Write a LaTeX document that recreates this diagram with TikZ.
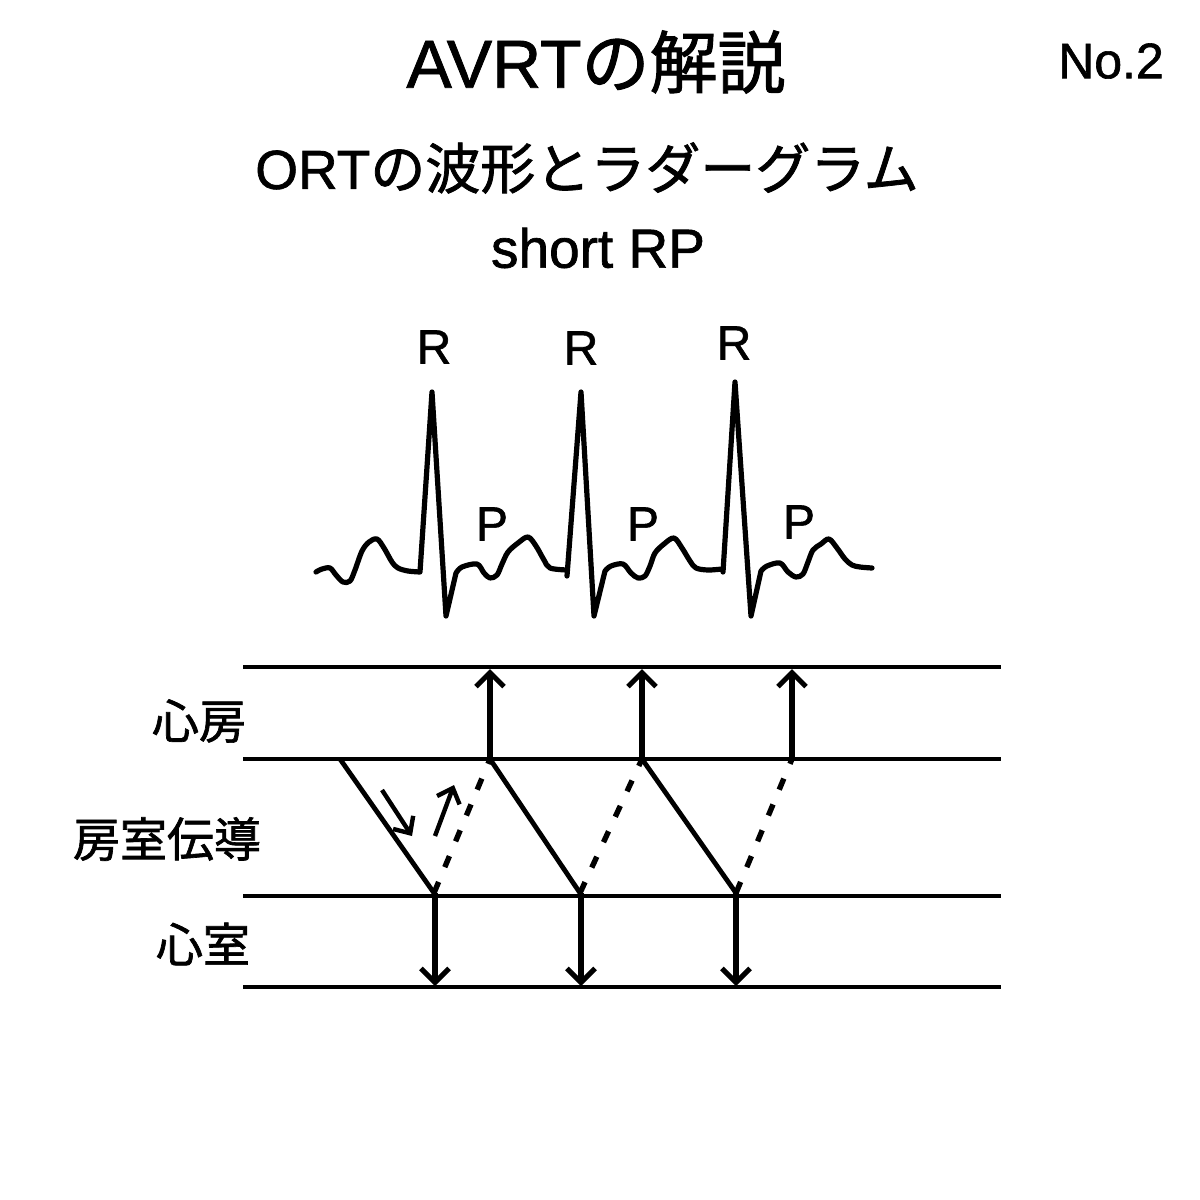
\documentclass[tikz,border=0pt]{standalone}
\usepackage{fontspec}
\setmainfont[FakeBold=1.2]{Liberation Sans}
\newfontfamily\jp[FakeBold=1.4]{Noto Sans CJK JP}
\usetikzlibrary{arrows.meta}
\tikzset{
  lbl/.style={inner sep=0pt,text=black,font=\fontsize{48}{48}\selectfont},
  jplbl/.style={inner sep=0pt,text=black,font=\jp\fontsize{47}{47}\selectfont},
  level/.style={line width=3.8pt},
  vert/.style={line width=5.6pt,-{Straight Barb[length=14pt,width=28pt,line width=5pt]}},
  anti/.style={line width=4.8pt},
  retro/.style={line width=5.4pt,dash pattern=on 12pt off 16pt},
  small/.style={line width=4.4pt,-{Straight Barb[length=13pt,width=24pt,line width=4.4pt]}},
  ecg/.style={line width=5.2pt,line join=round,line cap=round}
}
\begin{document}
\begin{tikzpicture}[x=1pt,y=-1pt]
\useasboundingbox (0,0) rectangle (1200,1200);
\fill[white] (0,0) rectangle (1200,1200);
% titles
\node[inner sep=0pt] (title) at (596,62) {\fontsize{68}{68}\selectfont AVRT\jp の解説};
\node[inner sep=0pt] (no) at (1111,61) {\fontsize{50}{50}\selectfont No.2};
\node[inner sep=0pt] (sub) at (587,168) {\fontsize{55}{55}\selectfont ORT\jp の波形とラダーグラム};
\node[inner sep=0pt] (rp) at (598,248) {\fontsize{55}{55}\selectfont short RP};
% wave labels
\node[lbl] (r1) at (434,347) {R};
\node[lbl] (r2) at (581,348) {R};
\node[lbl] (r3) at (734,343) {R};
\node[lbl] (p1) at (492,524) {P};
\node[lbl] (p2) at (643,524) {P};
\node[lbl] (p3) at (799,522) {P};
% ECG
\draw[ecg] plot[smooth,tension=0.55] coordinates {(316,572)(322,569)(330,568)(336,575)(343,582)(350,581)(355,570)(362,551)(369,542)(377,539)(384,548)(392,562)(398,568)(408,571)(420,572)}
  -- (432,392) -- (446,616) -- (456,573)
  plot[smooth,tension=0.55] coordinates {(456,573)(462,567)(477,564)(484,573)(490,578)(497,575)(502,564)(508,552)(518,543)(528,537)(536,546)(544,560)(550,568)(567,570)}
  (567,576) -- (581,392) -- (594,616) -- (605,571)
  plot[smooth,tension=0.55] coordinates {(605,571)(611,566)(623,564)(631,573)(638,578)(645,576)(650,566)(655,553)(664,544)(674,538)(682,548)(690,561)(696,568)(708,570)(722,569)}
  (723,572) -- (735,382) -- (751,616) -- (761,571)
  plot[smooth,tension=0.55] coordinates {(761,571)(767,566)(780,563)(788,572)(796,577)(803,574)(808,562)(813,550)(821,544)(829,539)(837,548)(845,559)(852,565)(860,567)(872,568)};
% ladder levels
\foreach \n/\y in {a/667,b/759,c/896,d/987}{
  \coordinate (\n L) at (243,\y);
  \coordinate (\n R) at (1001,\y);
  \draw[level] (\n L) -- (\n R);
}
% ladder labels
\node[jplbl] (la) at (199,721) {心房};
\node[jplbl] (lav) at (167,839) {房室伝導};
\node[jplbl] (lv) at (203,944) {心室};
% ladder points
\coordinate (s0) at (340,759);
\coordinate (v1) at (434,893);
\coordinate (s1) at (490,759);
\coordinate (v2) at (580,893);
\coordinate (s2) at (642,759);
\coordinate (v3) at (736,893);
\coordinate (s3) at (792,759);
\coordinate (u1) at (490,669);
\coordinate (u2) at (642,669);
\coordinate (u3) at (792,669);
\coordinate (w1) at (435,986);
\coordinate (w2) at (581,986);
\coordinate (w3) at (736,986);
\coordinate (d1) at (435,893);
\coordinate (d2) at (581,893);
\coordinate (d3) at (736,893);
\draw[vert] (s1) -- (u1);
\draw[vert] (s2) -- (u2);
\draw[vert] (s3) -- (u3);
\draw[vert] (d1) -- (w1);
\draw[vert] (d2) -- (w2);
\draw[vert] (d3) -- (w3);
\draw[anti] (s0) -- (v1);
\draw[anti] (s1) -- (v2);
\draw[anti] (s2) -- (v3);
\draw[retro] (v1) -- (s1);
\draw[retro] (v2) -- (s2);
\draw[retro] (v3) -- (s3);
% direction arrows
\coordinate (m1) at (382,790);
\coordinate (m2) at (412,836);
\coordinate (m3) at (435,836);
\coordinate (m4) at (454,785);
\draw[small] (m1) -- (m2);
\draw[small] (m3) -- (m4);
\end{tikzpicture}
\end{document}
